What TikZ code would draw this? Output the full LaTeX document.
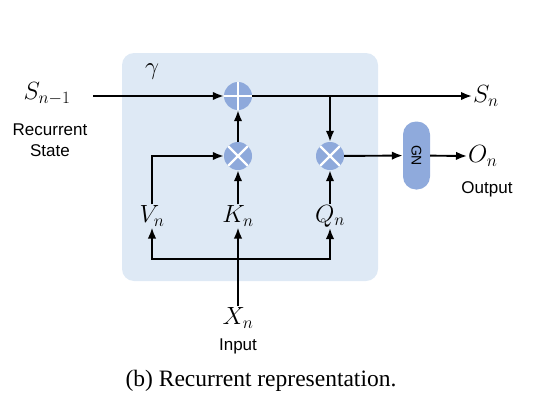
\documentclass[tikz,border=0pt]{standalone}
\usepackage{fontspec}
\setmainfont{Liberation Serif}
\newfontfamily\arialf{Liberation Sans}
\usetikzlibrary{arrows.meta}
\definecolor{bgblue}{HTML}{DEE9F5}
\definecolor{opblue}{HTML}{8EA9DB}
\definecolor{gnblue}{HTML}{8FAADC}
\begin{document}
\begin{tikzpicture}[x=1pt,y=-1pt,
  op/.style={circle, fill=opblue, minimum size=28pt, inner sep=0pt},
  plusop/.style={op, path picture={\draw[white, line width=2.4pt]
      (path picture bounding box.north) -- (path picture bounding box.south)
      (path picture bounding box.west) -- (path picture bounding box.east);}},
  timesop/.style={op, path picture={\draw[white, line width=2.4pt]
      (path picture bounding box.north west) -- (path picture bounding box.south east)
      (path picture bounding box.north east) -- (path picture bounding box.south west);}},
  arr/.style={-{Latex[length=11pt,width=8.5pt]}, line width=1.9pt},
  mlbl/.style={font=\fontsize{26}{30}\selectfont, inner sep=1pt},
  slbl/.style={font=\arialf\fontsize{17}{21}\selectfont, inner sep=0pt, align=center},
]
\useasboundingbox (0,0) rectangle (535,415);
% panel
\node[fill=bgblue, rounded corners=12pt, minimum width=256pt, minimum height=228pt, inner sep=0pt] (panel) at (250,167) {};
% operators
\node[plusop] (plus) at (238,96) {};
\node[timesop] (t1) at (238,156) {};
\node[timesop] (t2) at (330,156) {};
% GN
\node[fill=gnblue, rounded corners=13pt, minimum width=68pt, minimum height=27pt, inner sep=0pt, rotate=-90, font=\arialf\fontsize{14}{16}\selectfont] (gn) at (416.5,155.5) {GN};
% labels
\node[mlbl] (sprev) at (47,94) {$S_{n-1}$};
\node[slbl] (rs) at (50,140) {Recurrent\\State};
\node[mlbl] (gamma) at (152,72) {$\gamma$};
\node[mlbl, anchor=west] (sn) at (472,96) {$S_n$};
\node[mlbl, anchor=west] (on) at (467,156) {$O_n$};
\node[slbl] (out) at (487,189) {Output};
\node[mlbl] (vn) at (152,216) {$V_n$};
\node[mlbl] (kn) at (238,216) {$K_n$};
\node[mlbl] (qn) at (330,216) {$Q_n$};
\node[mlbl] (xn) at (238,318) {$X_n$};
\node[slbl] (inp) at (238,346) {Input};
\node[font=\fontsize{23.5}{27}\selectfont] (cap) at (261,381) {(b) Recurrent representation.};
% coordinates
\coordinate (sin) at (93,96);
\coordinate (br) at (330,96);
\coordinate (jn) at (238,259);
% connectors
\draw[arr] (sin) -- (plus);
\draw[arr] (plus) -- (sn.west);
\draw[arr] (br) -- (t2);
\draw[arr] (t1) -- (plus);
\draw[arr] (vn.north) |- (t1);
\draw[arr] (kn) -- (t1);
\draw[arr] (qn) -- (t2);
\draw[arr] (t2) -- (gn);
\draw[arr] (gn) -- (on.west);
\draw[arr] (xn.north) -- (kn.south);
\draw[arr] (jn) -| (vn.south);
\draw[arr] (jn) -| (qn.south);
\end{tikzpicture}
\end{document}
